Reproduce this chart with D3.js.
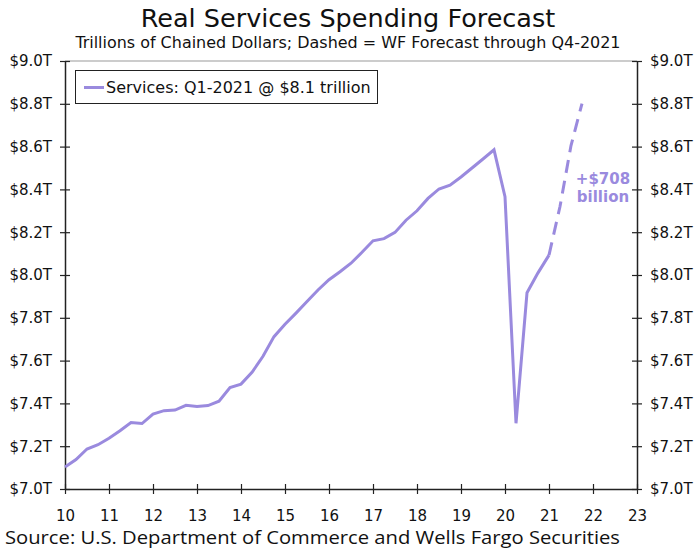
<!DOCTYPE html>
<html>
<head>
<meta charset="utf-8">
<script src="https://cdn.jsdelivr.net/npm/d3@7"></script>
<style>
  html, body { margin: 0; padding: 0; background: #fff; }
  svg { display: block; }
</style>
</head>
<body>
<svg id="chart" width="696" height="552"></svg>
<script>
// Real services spending, trillions of chained dollars, quarterly (year = 20xx, plotted as 10..21.75)
const quarters = [
  10.00, 10.25, 10.50, 10.75, 11.00, 11.25, 11.50, 11.75,
  12.00, 12.25, 12.50, 12.75, 13.00, 13.25, 13.50, 13.75,
  14.00, 14.25, 14.50, 14.75, 15.00, 15.25, 15.50, 15.75,
  16.00, 16.25, 16.50, 16.75, 17.00, 17.25, 17.50, 17.75,
  18.00, 18.25, 18.50, 18.75, 19.00, 19.25, 19.50, 19.75,
  20.00, 20.25, 20.50, 20.75, 21.00
];
const actual = [
  7.103, 7.138, 7.187, 7.207, 7.237, 7.272, 7.311, 7.306,
  7.350, 7.366, 7.369, 7.391, 7.386, 7.390, 7.410, 7.474,
  7.490, 7.545, 7.620, 7.712, 7.770, 7.822, 7.876, 7.930,
  7.978, 8.015, 8.055, 8.106, 8.160, 8.170, 8.199, 8.256,
  8.300, 8.358, 8.402, 8.420, 8.458, 8.500, 8.542, 8.585,
  8.366, 7.307, 7.917, 8.010, 8.093
];
// Forecast path: Q1-2021 through Q4-2021
const forecastQuarters = [21.00, 21.25, 21.50, 21.75];
const forecast = [8.093, 8.320, 8.605, 8.801];

const yTicks = [7.0, 7.2, 7.4, 7.6, 7.8, 8.0, 8.2, 8.4, 8.6, 8.8, 9.0];
const xTicks = [10, 11, 12, 13, 14, 15, 16, 17, 18, 19, 20, 21, 22, 23];

const titleText = "Real Services Spending Forecast";
const subtitleText = "Trillions of Chained Dollars; Dashed = WF Forecast through Q4-2021";
const legendText = "Services: Q1-2021 @ $8.1 trillion";
const noteLines = ["+$708", "billion"];
const sourceText = "Source: U.S. Department of Commerce and Wells Fargo Securities";

const purple = "#9a8ade";
const font = "Verdana, 'DejaVu Sans', sans-serif";

const svg = d3.select("#chart");
const plotLeft = 65, plotRight = 637, plotTop = 61, plotBottom = 489;

const x = d3.scaleLinear().domain([10, 23]).range([plotLeft, plotRight]);
const y = d3.scaleLinear().domain([7.0, 9.0]).range([plotBottom, plotTop]);

// Title and subtitle
svg.append("text").attr("x", 348).attr("y", 27).attr("text-anchor", "middle")
  .style("font-family", font).style("font-size", "25.5px").attr("fill", "#111")
  .text(titleText);
svg.append("text").attr("x", 348).attr("y", 48).attr("text-anchor", "middle")
  .style("font-family", "'DejaVu Sans Condensed', 'DejaVu Sans', sans-serif").style("font-size", "15px").attr("fill", "#111")
  .attr("textLength", 545).attr("lengthAdjust", "spacingAndGlyphs")
  .text(subtitleText);

// Frame top
svg.append("line").attr("x1", plotLeft).attr("x2", plotRight).attr("y1", plotTop).attr("y2", plotTop)
  .attr("stroke", "#999").attr("stroke-width", 1);

const fmt = d => "$" + d.toFixed(1) + "T";

// Left axis
const yl = svg.append("g").attr("transform", `translate(${plotLeft},0)`)
  .call(d3.axisLeft(y).tickValues(yTicks).tickFormat(fmt).tickSizeInner(5).tickSizeOuter(0).tickPadding(8));
yl.selectAll(".tick line").attr("x2", 5).attr("x1", -5);
// Right axis
const yr = svg.append("g").attr("transform", `translate(${plotRight},0)`)
  .call(d3.axisRight(y).tickValues(yTicks).tickFormat(fmt).tickSizeInner(5).tickSizeOuter(0).tickPadding(8));
yr.selectAll(".tick line").attr("x1", -5).attr("x2", 5);
// Bottom axis
const xb = svg.append("g").attr("transform", `translate(0,${plotBottom})`)
  .call(d3.axisBottom(x).tickValues(xTicks).tickFormat(d3.format("d")).tickSizeInner(5).tickSizeOuter(0).tickPadding(16));
xb.selectAll(".tick line").attr("y1", -5).attr("y2", 5);

[yl, yr, xb].forEach(g => {
  g.select(".domain").attr("stroke", "#222").attr("stroke-width", 1.5);
  g.selectAll(".tick line").attr("stroke", "#222").attr("stroke-width", 1.2);
  g.selectAll(".tick text").style("font-family", font).style("font-size", "15px").attr("fill", "#111");
});

// Series lines
const line = d3.line().x(d => x(d[0])).y(d => y(d[1]));
svg.append("path").datum(quarters.map((q, i) => [q, actual[i]]))
  .attr("d", line).attr("fill", "none").attr("stroke", purple)
  .attr("stroke-width", 3).attr("stroke-linejoin", "miter");
svg.append("path").datum(forecastQuarters.map((q, i) => [q, forecast[i]]))
  .attr("d", line).attr("fill", "none").attr("stroke", purple)
  .attr("stroke-width", 3).attr("stroke-dasharray", "13,8");

// Annotation
const note = svg.append("text").attr("text-anchor", "middle")
  .style("font-family", font).style("font-size", "15px").style("font-weight", "bold").attr("fill", purple);
noteLines.forEach((t, i) => {
  note.append("tspan").attr("x", 603).attr("y", 184 + i * 18).text(t);
});

// Legend
const lg = svg.append("g");
lg.append("rect").attr("x", 75.5).attr("y", 70.5).attr("width", 302).attr("height", 33)
  .attr("fill", "#fff").attr("stroke", "#222").attr("stroke-width", 1);
lg.append("line").attr("x1", 84).attr("x2", 104).attr("y1", 87.5).attr("y2", 87.5)
  .attr("stroke", purple).attr("stroke-width", 3);
lg.append("text").attr("x", 106).attr("y", 93)
  .style("font-family", font).style("font-size", "16px").attr("fill", "#111")
  .text(legendText);

// Source
svg.append("text").attr("x", 5).attr("y", 544)
  .style("font-family", "'Open Sans', sans-serif").style("font-size", "18.5px").attr("fill", "#111")
  .attr("textLength", 615).attr("lengthAdjust", "spacingAndGlyphs")
  .text(sourceText);
</script>
</body>
</html>
